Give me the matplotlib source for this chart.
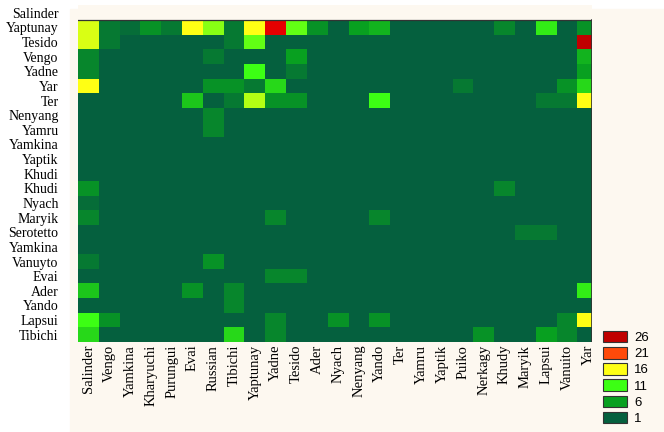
import numpy as np
import matplotlib
matplotlib.use("Agg")
import matplotlib.pyplot as plt
from matplotlib.colors import LinearSegmentedColormap, Normalize
from matplotlib.patches import Patch, Rectangle

row_labels = ["Salinder", "Yaptunay", "Tesido", "Vengo", "Yadne", "Yar", "Ter",
              "Nenyang", "Yamru", "Yamkina", "Yaptik", "Khudi", "Khudi", "Nyach",
              "Maryik", "Serotetto", "Yamkina", "Vanuyto", "Evai", "Ader", "Yando",
              "Lapsui", "Tibichi"]
col_labels = ["Salinder", "Vengo", "Yamkina", "Kharyuchi", "Purungui", "Evai",
              "Russian", "Tibichi", "Yaptunay", "Yadne", "Tesido", "Ader", "Nyach",
              "Nenyang", "Yando", "Ter", "Yamru", "Yaptik", "Puiko", "Nerkagy",
              "Khudy", "Maryik", "Lapsui", "Vanuito", "Yar"]

# non-background cells: (row label index, column index) -> value; the rest are 1
cells = {
    (1, 0): 15, (1, 1): 3, (1, 2): 2, (1, 3): 5, (1, 4): 3, (1, 5): 16, (1, 6): 13,
    (1, 7): 3, (1, 8): 16, (1, 9): 24, (1, 10): 12, (1, 11): 5, (1, 13): 6,
    (1, 14): 7, (1, 20): 4, (1, 22): 10, (1, 24): 5,
    (2, 0): 15, (2, 1): 3, (2, 7): 3, (2, 8): 12, (2, 24): 26,
    (3, 0): 4, (3, 6): 3, (3, 10): 6, (3, 24): 7,
    (4, 0): 4, (4, 8): 11, (4, 10): 3, (4, 24): 6,
    (5, 0): 16, (5, 6): 5, (5, 7): 5, (5, 8): 3, (5, 9): 9, (5, 18): 3,
    (5, 23): 5, (5, 24): 9,
    (6, 5): 8, (6, 7): 3, (6, 8): 14, (6, 9): 5, (6, 10): 5, (6, 14): 11,
    (6, 22): 3, (6, 23): 3, (6, 24): 16,
    (7, 6): 4, (8, 6): 4,
    (12, 0): 5, (12, 20): 4,
    (13, 0): 2,
    (14, 0): 4, (14, 9): 4, (14, 14): 4,
    (15, 21): 3, (15, 22): 3,
    (17, 0): 3, (17, 6): 5,
    (18, 9): 4, (18, 10): 4,
    (19, 0): 8, (19, 5): 5, (19, 7): 4, (19, 24): 10,
    (20, 7): 4,
    (21, 0): 11, (21, 1): 5, (21, 9): 4, (21, 12): 5, (21, 14): 5, (21, 23): 4,
    (21, 24): 16,
    (22, 0): 9, (22, 7): 9, (22, 9): 4, (22, 19): 5, (22, 22): 6, (22, 23): 4,
}

legend_values = [26, 21, 16, 11, 6, 1]
legend_colors = ["#c00000", "#ff4a0a", "#ffff14", "#3cff14", "#08a020", "#05603e"]

cream = "#fdf8f0"

# Salinder row has no cells drawn (empty band above the map)
grid = np.full((len(row_labels), len(col_labels)), np.nan)
grid[1:, :] = 1
for (r, c), v in cells.items():
    grid[r, c] = v

# red sits between the orange and dark red of the legend
nodes = [(0.0, legend_colors[5]), (0.2, legend_colors[4]), (0.4, legend_colors[3]),
         (0.6, legend_colors[2]), (0.8, legend_colors[1]), (0.9, "#f00000"),
         (1.0, legend_colors[0])]
cmap = LinearSegmentedColormap.from_list("lvl", nodes)
cmap.set_bad(cream)

fig = plt.figure(figsize=(6.64, 4.32), dpi=100)
fig.patches.append(Rectangle((70 / 664, 0), 1, 1 - 9 / 432, transform=fig.transFigure,
                             color=cream, zorder=-1))
ax = fig.add_axes([78 / 664, 1 - 342 / 432, 514 / 664, 336.6 / 432])
ax.set_facecolor(cream)

ax.pcolormesh(np.arange(len(col_labels) + 1) - 0.5, np.arange(len(row_labels) + 1) - 0.5,
              np.ma.masked_invalid(grid), cmap=cmap, norm=Normalize(1, 26))
ax.set_xlim(-0.5, 24.2)
ax.set_ylim(len(row_labels) - 0.5, -0.5)

ax.axhline(0.5, color="#333333", lw=0.9)
ax.axvline(24.2, ymin=0, ymax=22 / 23, color="#333333", lw=1.2)
for s in ax.spines.values():
    s.set_visible(False)

ax.set_xticks(range(len(col_labels)))
ax.set_xticklabels(col_labels, rotation=90, family="Liberation Serif", fontsize=10.5)
ax.set_yticks(range(len(row_labels)))
ax.set_yticklabels(row_labels, family="Liberation Serif", fontsize=10)
ax.tick_params(axis="x", length=0, pad=2)
ax.tick_params(axis="y", length=0, pad=14)

handles = [Patch(facecolor=c, edgecolor="#333333", lw=0.8) for c in legend_colors]
fig.legend(handles, [str(v) for v in legend_values], loc="upper left",
           bbox_to_anchor=(603 / 664, 1 - 331 / 432), frameon=False,
           prop={"family": "Liberation Sans", "size": 9.5},
           handlelength=1.85, handleheight=0.95, labelspacing=0.22,
           handletextpad=0.5, borderpad=0, borderaxespad=0)

fig.savefig("out.png", dpi=100)
